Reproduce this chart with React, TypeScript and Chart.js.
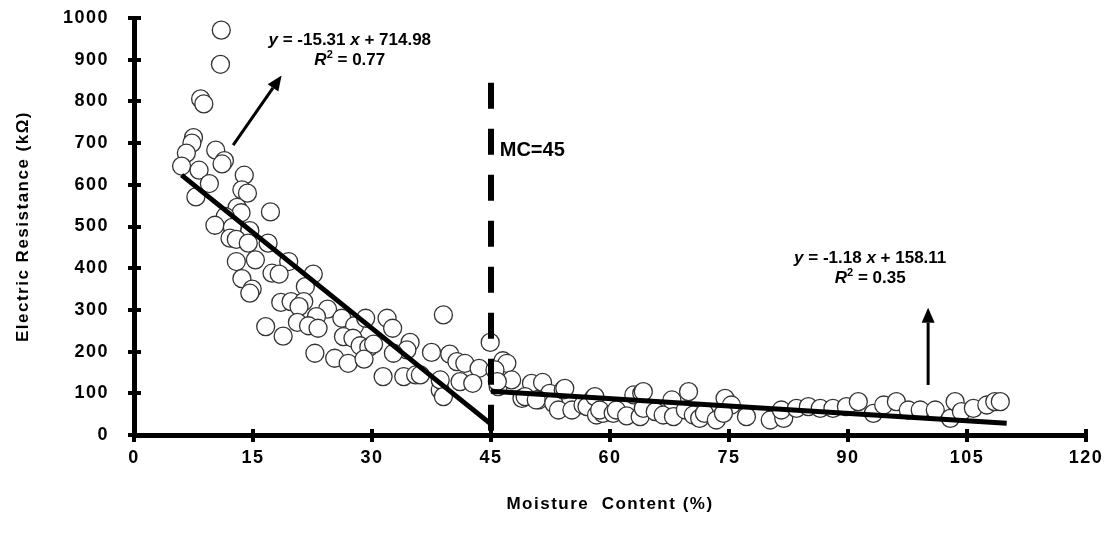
import React, { useEffect, useRef } from "react";
import { Chart, registerables } from "chart.js";

Chart.register(...registerables);

// ---- Data ----
const moistureContent: number[] = [
  11.0, 10.9, 8.4, 8.8, 7.5, 7.3, 6.6, 6.0, 8.2, 10.3, 11.4, 11.1, 9.5, 7.8,
  13.9, 13.6, 14.3, 17.2, 13.0, 13.5, 11.5, 10.2, 12.4, 14.6, 12.1, 12.9, 14.4,
  16.9, 12.9, 15.3, 17.4, 19.5, 13.6, 14.9, 14.6, 18.3, 22.6, 21.6, 18.5, 19.8,
  21.4, 20.8, 24.4, 23.0, 20.6, 22.0, 23.2, 16.6, 18.8, 26.2, 27.8, 29.2, 26.4,
  27.6, 28.5, 29.6, 22.8, 25.3, 27.0, 29.0, 31.9, 32.6, 30.2, 31.4, 34.0, 35.5,
  34.8, 34.4, 32.7, 37.5, 39.8, 39.0, 40.7, 41.7, 38.6, 43.5, 41.1, 42.7, 36.1,
  38.6, 39.0, 44.9,
  45.9, 46.5, 47.0, 45.5, 47.6, 45.8, 48.9, 50.1, 51.5, 49.3, 52.4, 51.0, 50.7,
  52.9, 54.1, 54.3, 53.5, 55.2, 56.6, 57.9, 57.1, 58.3, 59.1, 58.1, 58.7, 60.4,
  60.8, 62.1, 63.0, 64.0, 64.2, 63.8, 64.2, 65.7, 66.7, 67.8, 68.0, 69.9, 69.5,
  70.5, 71.3, 71.9, 73.4, 74.5, 75.3, 74.3, 77.2, 80.2, 81.9, 81.6, 83.5, 85.0,
  86.5, 88.1, 89.8, 91.3, 93.2, 94.5, 96.1, 97.6, 99.1, 101.0, 102.9, 103.5,
  104.3, 105.8, 107.5, 108.5, 109.2,
];
const electricResistance: number[] = [
  971, 889, 806, 794, 713, 700, 676, 645, 635, 683, 658, 650, 603, 571,
  623, 588, 580, 535, 546, 533, 524, 503, 498, 490, 472, 469, 460,
  460, 416, 420, 388, 416, 375, 350, 340, 386, 386, 356, 318, 320,
  320, 308, 302, 284, 270, 262, 256, 260, 237, 280, 262, 280, 236,
  232, 214, 210, 196, 184, 172, 182, 280, 256, 218, 140, 140, 144,
  222, 204, 196, 198, 194, 288, 176, 172, 108, 160, 128, 124, 144,
  132, 92, 222,
  116, 178, 172, 156, 132, 128, 88, 124, 126, 92, 100, 84, 84,
  76, 108, 112, 60, 60, 72, 88, 68, 48, 52, 92, 60, 52,
  60, 46, 96, 100, 104, 44, 64, 56, 48, 84, 44, 104, 60,
  48, 40, 52, 36, 88, 72, 52, 44, 36, 40, 60, 64, 68,
  64, 64, 68, 80, 52, 72, 80, 60, 60, 60, 40, 80,
  56, 64, 72, 80, 80,
];

const xTickValues: number[] = [0, 15, 30, 45, 60, 75, 90, 105, 120];
const yTickValues: number[] = [0, 100, 200, 300, 400, 500, 600, 700, 800, 900, 1000];

// regression fits (from the equations printed on the chart)
const fitSlopes: number[] = [-15.31, -1.18];
const fitIntercepts: number[] = [714.98, 158.11];
const fitFrom: number[] = [6, 45];
const fitTo: number[] = [45, 110];
const fitLabels: string[][] = [
  ["-15.31", "714.98", "0.77"],
  ["-1.18", "158.11", "0.35"],
];

// MC = 45 threshold line
const thresholdX = 45;
const thresholdTop = 845;

// annotation anchors in data units
const labelAnchorsX: number[] = [27.2, 92.8];
const labelAnchorsY: number[] = [947, 424];
const arrowFromX: number[] = [12.5, 100.1];
const arrowFromY: number[] = [695, 120];
const arrowToX: number[] = [18.6, 100.1];
const arrowToY: number[] = [862, 305];
const mcLabelX = 46.1;
const mcLabelY = 683;

const FONT = "'Liberation Sans', Arial, sans-serif";

type Run = { t: string; it?: boolean; sup?: boolean };

function drawRuns(ctx: CanvasRenderingContext2D, runs: Run[], cx: number, cy: number, size: number) {
  const fontFor = (r: Run) =>
    `${r.it ? "italic " : ""}bold ${r.sup ? Math.round(size * 0.65) : size}px ${FONT}`;
  let total = 0;
  for (const r of runs) {
    ctx.font = fontFor(r);
    total += ctx.measureText(r.t).width;
  }
  let x = cx - total / 2;
  ctx.textBaseline = "middle";
  ctx.textAlign = "left";
  for (const r of runs) {
    ctx.font = fontFor(r);
    ctx.fillText(r.t, x, r.sup ? cy - size * 0.33 : cy);
    x += ctx.measureText(r.t).width;
  }
}

function drawArrow(ctx: CanvasRenderingContext2D, x1: number, y1: number, x2: number, y2: number) {
  const ang = Math.atan2(y2 - y1, x2 - x1);
  const headLen = 15;
  const headW = 6.5;
  const bx = x2 - headLen * Math.cos(ang);
  const by = y2 - headLen * Math.sin(ang);
  ctx.strokeStyle = "#000";
  ctx.lineWidth = 3;
  ctx.beginPath();
  ctx.moveTo(x1, y1);
  ctx.lineTo(bx, by);
  ctx.stroke();
  ctx.fillStyle = "#000";
  ctx.beginPath();
  ctx.moveTo(x2, y2);
  ctx.lineTo(bx + headW * Math.sin(ang), by - headW * Math.cos(ang));
  ctx.lineTo(bx - headW * Math.sin(ang), by + headW * Math.cos(ang));
  ctx.closePath();
  ctx.fill();
}

const overlayPlugin = {
  id: "overlay",
  beforeDraw(chart: any) {
    (chart.ctx as any).letterSpacing = "1.5px";
  },
  afterDatasetsDraw(chart: any) {
    const ctx: CanvasRenderingContext2D = chart.ctx;
    const xs = chart.scales.x;
    const ys = chart.scales.y;
    ctx.save();
    (ctx as any).letterSpacing = "0px";
    ctx.fillStyle = "#000";
    for (let i = 0; i < 2; i++) {
      const cx = xs.getPixelForValue(labelAnchorsX[i]);
      const cy = ys.getPixelForValue(labelAnchorsY[i]);
      const [m, b, r2] = fitLabels[i];
      drawRuns(ctx, [{ t: "y", it: true }, { t: ` = ${m} ` }, { t: "x", it: true }, { t: ` + ${b}` }], cx, cy, 17);
      drawRuns(ctx, [{ t: "R", it: true }, { t: "2", sup: true }, { t: ` = ${r2}` }], cx, cy + 20, 17);
      drawArrow(
        ctx,
        xs.getPixelForValue(arrowFromX[i]),
        ys.getPixelForValue(arrowFromY[i]),
        xs.getPixelForValue(arrowToX[i]),
        ys.getPixelForValue(arrowToY[i])
      );
    }
    ctx.font = `bold 20px ${FONT}`;
    ctx.textAlign = "left";
    ctx.textBaseline = "middle";
    ctx.fillText("MC=45", xs.getPixelForValue(mcLabelX), ys.getPixelForValue(mcLabelY));
    ctx.restore();
  },
  afterDraw(chart: any) {
    const ctx: CanvasRenderingContext2D = chart.ctx;
    const xs = chart.scales.x;
    const ys = chart.scales.y;
    const a = chart.chartArea;
    ctx.save();
    ctx.fillStyle = "#000";
    for (const v of xTickValues) {
      const px = Math.round(xs.getPixelForValue(v));
      ctx.fillRect(px - 2, a.bottom - 6, 4, 13);
    }
    for (const v of yTickValues) {
      const py = Math.round(ys.getPixelForValue(v));
      ctx.fillRect(a.left - 6, py - 2, 13, 4);
    }
    ctx.restore();
  },
};

export default function App() {
  const canvasRef = useRef<HTMLCanvasElement | null>(null);

  useEffect(() => {
    if (!canvasRef.current) return;
    const points = moistureContent.map((x, i) => ({ x, y: electricResistance[i] }));
    const fitDatasets = fitSlopes.map((m, i) => ({
      type: "line" as const,
      label: `fit${i + 1}`,
      data: [
        { x: fitFrom[i], y: m * fitFrom[i] + fitIntercepts[i] },
        { x: fitTo[i], y: m * fitTo[i] + fitIntercepts[i] },
      ],
      borderColor: "#000",
      borderWidth: 5,
      pointRadius: 0,
      fill: false,
      order: 0,
    }));

    const chart = new Chart(canvasRef.current, {
      type: "scatter",
      data: {
        datasets: [
          ...fitDatasets,
          {
            type: "line" as const,
            label: "MC=45",
            data: [
              { x: thresholdX, y: thresholdTop },
              { x: thresholdX, y: 0 },
            ],
            borderColor: "#000",
            borderWidth: 6,
            borderDash: [26, 20],
            pointRadius: 0,
            fill: false,
            order: 0,
          },
          {
            type: "scatter" as const,
            label: "data",
            data: points,
            backgroundColor: "#ffffff",
            borderColor: "#333333",
            borderWidth: 1.3,
            pointRadius: 9,
            order: 1,
          },
        ],
      } as any,
      options: {
        animation: false,
        responsive: false,
        devicePixelRatio: 1,
        layout: { padding: { top: 18, right: 31, left: 0, bottom: 0 } },
        plugins: {
          legend: { display: false },
          tooltip: { enabled: false },
        },
        scales: {
          x: {
            type: "linear",
            min: 0,
            max: 120,
            afterBuildTicks: (s: any) => {
              s.ticks = xTickValues.map((v) => ({ value: v }));
            },
            ticks: {
              color: "#000",
              font: { family: FONT, size: 18, weight: "bold" },
              padding: 12,
              maxRotation: 0,
              callback: (v: any) => String(v),
            },
            grid: { display: false, drawTicks: false },
            border: { display: true, color: "#000", width: 5 },
            title: {
              display: true,
              text: "Moisture  Content (%)",
              color: "#000",
              font: { family: FONT, size: 17, weight: "bold" },
              padding: { top: 0, bottom: 23 },
            },
            afterFit: (s: any) => {
              s.height = 103;
              s.paddingLeft = 0;
              s.paddingRight = 0;
            },
          },
          y: {
            type: "linear",
            min: 0,
            max: 1000,
            afterBuildTicks: (s: any) => {
              s.ticks = yTickValues.map((v) => ({ value: v }));
            },
            ticks: {
              color: "#000",
              font: { family: FONT, size: 18, weight: "bold" },
              padding: 25,
              callback: (v: any) => String(v),
            },
            grid: { display: false, drawTicks: false },
            border: { display: true, color: "#000", width: 5 },
            title: {
              display: true,
              text: "Electric Resistance (kΩ)",
              color: "#000",
              font: { family: FONT, size: 17, weight: "bold" },
              padding: { top: 13, bottom: 0 },
            },
            afterFit: (s: any) => {
              s.width = 134;
              s.paddingTop = 0;
              s.paddingBottom = 0;
            },
          },
        },
      } as any,
      plugins: [overlayPlugin],
    });
    return () => chart.destroy();
  }, []);

  return (
    <div style={{ position: "fixed", left: 0, top: 0, width: 1117, height: 538, background: "#fff" }}>
      <canvas ref={canvasRef} width={1117} height={538} style={{ display: "block" }} />
    </div>
  );
}
